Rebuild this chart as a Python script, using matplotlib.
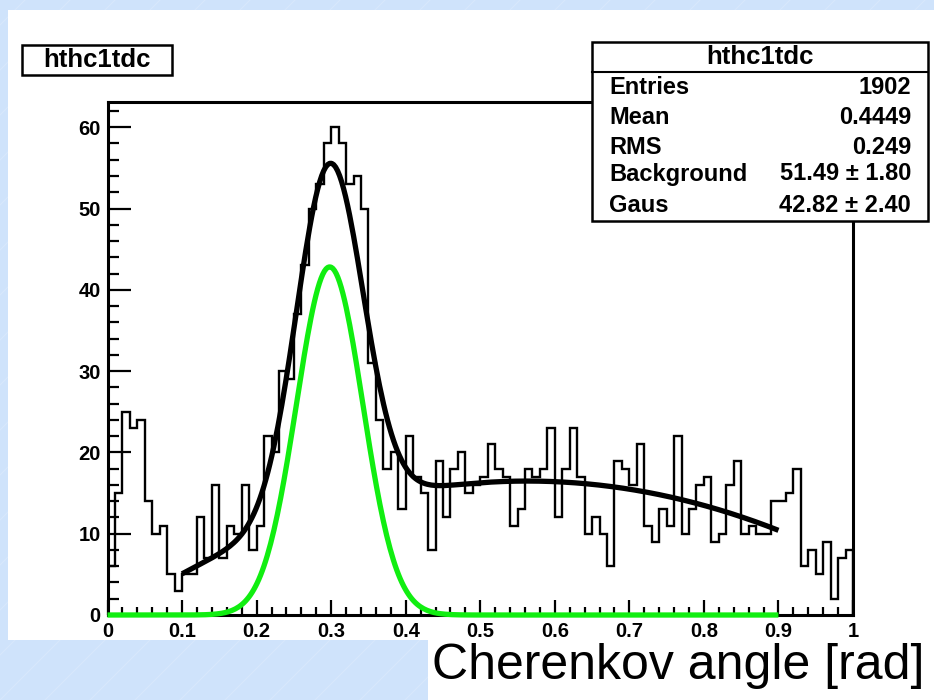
import numpy as np
import matplotlib
matplotlib.use("Agg")
import matplotlib.pyplot as plt
from matplotlib.patches import Rectangle
from matplotlib.lines import Line2D

# ---------------- data ----------------
bin_lo, bin_hi, n_bins = 0.0, 1.0, 100
counts = [6, 15, 25, 23, 24, 14, 10, 11, 5, 3,
          5, 5, 12, 7, 16, 7, 11, 10, 16, 8,
          11, 22, 20, 30, 29, 37, 43, 50, 53, 58,
          60, 58, 53, 54, 50, 31, 24, 18, 20, 13,
          22, 17, 15, 8, 19, 12, 18, 20, 15, 16,
          17, 21, 18, 17, 11, 13, 18, 17, 18, 23,
          12, 18, 23, 17, 10, 12, 10, 6, 19, 18,
          16, 21, 11, 9, 13, 11, 22, 10, 13, 16,
          17, 9, 10, 16, 19, 10, 11, 10, 10, 14,
          14, 15, 18, 6, 8, 5, 9, 2, 7, 8]

# fit: gaussian part (amplitude from stats box) and background read at points
gaus_amp, gaus_mean, gaus_sigma = 42.82, 0.298, 0.0445
bg_x = [0.1, 0.2, 0.3, 0.4, 0.5, 0.6, 0.7, 0.8, 0.9]
bg_y = [5.3, 9.0, 12.7, 15.5, 16.3, 16.3, 15.4, 13.4, 10.5]
fit_range = (0.1, 0.9)
gaus_range = (0.0, 0.9)

x_ticks = [0, 0.1, 0.2, 0.3, 0.4, 0.5, 0.6, 0.7, 0.8, 0.9, 1]
x_ticklabels = ["0", "0.1", "0.2", "0.3", "0.4", "0.5", "0.6", "0.7", "0.8", "0.9", "1"]
y_ticks = [0, 10, 20, 30, 40, 50, 60]

hist_name = "hthc1tdc"
stat_labels = ["Entries", "Mean", "RMS", "Background", "Gaus"]
stat_values = ["1902", "0.4449", "0.249", "51.49 \u00b1 1.80", "42.82 \u00b1 2.40"]
x_title = "Cherenkov angle [rad]"

# ---------------- figure ----------------
W, H = 934, 700
fig = plt.figure(figsize=(W / 100, H / 100), dpi=100)
fig.patch.set_facecolor("#cfe3fb")

def fx(px):
    return px / W

def fy(py):
    return 1 - py / H

# faint diagonal lines of the slide background
for k in range(-20, 40):
    x0 = k * 45
    fig.add_artist(Line2D([fx(x0), fx(x0 + 700)], [fy(700), fy(0)], color="#d8e8fc",
                          lw=0.7, zorder=0.1, transform=fig.transFigure))

# white canvas
fig.add_artist(Rectangle((fx(8), fy(640)), fx(934) - fx(8), fy(10) - fy(640),
                         transform=fig.transFigure, facecolor="white", edgecolor="none",
                         zorder=0.5))
# white box behind the x title
fig.add_artist(Rectangle((fx(428), fy(700)), fx(934) - fx(428), fy(636) - fy(700),
                         transform=fig.transFigure, facecolor="white", edgecolor="none",
                         zorder=0.6))

ax = fig.add_axes([fx(107.5), fy(615), fx(853) - fx(107.5), fy(102) - fy(615)])
ax.set_zorder(2)
ax.set_facecolor("white")
ax.set_xlim(bin_lo, bin_hi)
ax.set_ylim(0, 63.1)

edges = np.linspace(bin_lo, bin_hi, n_bins + 1)
ax.stairs(counts, edges, baseline=0, color="black", lw=1.7, zorder=3)

xf = np.linspace(fit_range[0], fit_range[1], 300)
bg_coef = np.polyfit(bg_x, bg_y, 3)
gaus_f = lambda x: gaus_amp * np.exp(-0.5 * ((x - gaus_mean) / gaus_sigma) ** 2)
ax.plot(xf, np.polyval(bg_coef, xf) + gaus_f(xf), color="black", lw=3.8, zorder=4,
        solid_capstyle="butt")
xg = np.linspace(gaus_range[0], gaus_range[1], 400)
ax.plot(xg, gaus_f(xg), color="#11ee11", lw=3.8, zorder=5, clip_on=False,
        solid_capstyle="butt")

for s in ax.spines.values():
    s.set_linewidth(2.2)

ax.set_xticks(x_ticks)
ax.set_xticklabels(x_ticklabels)
ax.set_xticks(np.arange(0, 1.0001, 0.02), minor=True)
ax.set_yticks(y_ticks)
ax.set_yticks(np.arange(0, 63, 2), minor=True)
ax.tick_params(axis="x", which="major", direction="in", length=11, width=1.6, pad=5,
               top=False)
ax.tick_params(axis="x", which="minor", direction="in", length=5.5, width=1.6, top=False)
ax.tick_params(axis="y", which="major", direction="in", length=16.5, width=1.6, pad=5,
               right=False)
ax.tick_params(axis="y", which="minor", direction="in", length=8, width=1.6, right=False)
for lab in ax.get_xticklabels() + ax.get_yticklabels():
    lab.set_fontfamily(["Liberation Sans", "DejaVu Sans"])
    lab.set_fontweight("bold")
    lab.set_fontsize(14.5)

sans = ["Liberation Sans", "DejaVu Sans"]

# title box
fig.add_artist(Rectangle((fx(22), fy(75)), fx(172) - fx(22), fy(45) - fy(75),
                         transform=fig.transFigure, facecolor="white", edgecolor="black",
                         lw=1.8, zorder=6))
fig.text(fx(97), fy(60), hist_name, ha="center", va="center", fontsize=18.5,
         family=sans, weight="bold", zorder=7)

# stats box
fig.add_artist(Rectangle((fx(592), fy(221)), fx(928) - fx(592), fy(42) - fy(221),
                         transform=fig.transFigure, facecolor="white", edgecolor="black",
                         lw=1.8, zorder=6))
fig.add_artist(Line2D([fx(592), fx(928)], [fy(72), fy(72)], color="black", lw=1.5,
                      transform=fig.transFigure, zorder=7))
fig.text(fx(760), fy(57), hist_name, ha="center", va="center", fontsize=18.5,
         family=sans, weight="bold", zorder=7)
row_y = [88, 118, 147, 174, 206]
for lab, val, yy in zip(stat_labels, stat_values, row_y):
    fig.text(fx(609), fy(yy), lab, ha="left", va="center", fontsize=17,
             family=sans, weight="bold", zorder=7)
    fig.text(fx(911), fy(yy), val, ha="right", va="center", fontsize=17,
             family=sans, weight="bold", zorder=7)

# x title
fig.text(fx(925), fy(666), x_title, ha="right", va="center", fontsize=36,
         family=sans, zorder=8)

fig.savefig("out.png", dpi=100, facecolor=fig.get_facecolor())
